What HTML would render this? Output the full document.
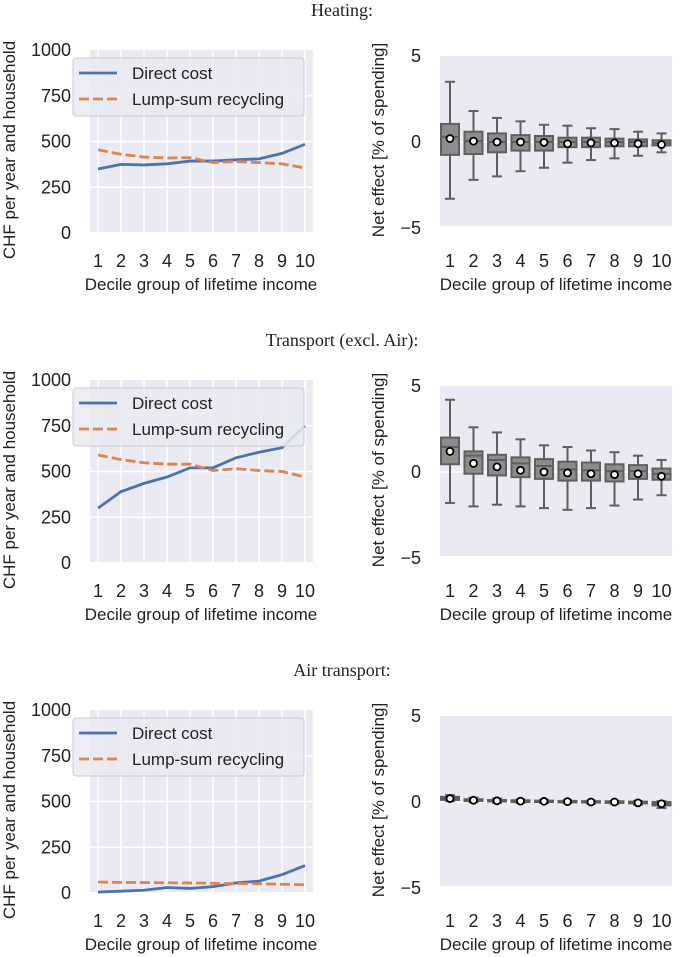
<!DOCTYPE html>
<html><head><meta charset="utf-8">
<style>
html,body{margin:0;padding:0;background:#fff;}
svg{display:block;font-family:"Liberation Sans",sans-serif;}
</style></head>
<body>
<svg id="fig" width="685" height="957" viewBox="0 0 685 957" xmlns="http://www.w3.org/2000/svg"></svg>
<script>
const deciles = [1,2,3,4,5,6,7,8,9,10];
const panelTitles = ["Heating:", "Transport (excl. Air):", "Air transport:"];
const costTicks = [0,250,500,750,1000];
const netTicks = [-5,0,5];
// line data
const heatDirect = [350,375,372,378,393,393,400,405,435,485];
const heatLump = [455,430,415,410,412,385,390,385,378,355];
const transDirect = [300,390,435,470,520,520,575,605,630,750];
const transLump = [590,565,548,540,540,505,515,505,500,470];
const airDirect = [5,10,15,30,25,35,55,65,100,150];
const airLump = [60,58,57,56,55,53,52,50,48,45];
// boxplot data: whisker low, q1, median, q3, whisker high, mean
const heatWlo = [-3.3,-2.2,-2.0,-1.7,-1.5,-1.2,-1.05,-0.95,-0.8,-0.6];
const heatQ1 = [-0.75,-0.7,-0.6,-0.5,-0.5,-0.3,-0.3,-0.25,-0.25,-0.2];
const heatMed = [0.3,0.05,0,0,0,0,0,0,0,-0.05];
const heatQ3 = [1.05,0.6,0.5,0.4,0.35,0.25,0.25,0.2,0.15,0.1];
const heatWhi = [3.5,1.8,1.4,1.2,1.0,0.95,0.8,0.75,0.6,0.5];
const heatMean = [0.2,0.05,0,0,-0.02,-0.1,-0.05,-0.05,-0.1,-0.15];
const trWlo = [-1.8,-2.0,-1.9,-2.0,-2.1,-2.2,-2.1,-1.95,-1.6,-1.35];
const trQ1 = [0.45,-0.1,-0.2,-0.3,-0.4,-0.5,-0.5,-0.55,-0.4,-0.45];
const trMed = [1.45,0.95,0.7,0.5,0.35,0.15,0.1,0.05,0.05,-0.1];
const trQ3 = [2.0,1.2,1.0,0.85,0.75,0.6,0.55,0.45,0.4,0.2];
const trWhi = [4.2,2.6,2.3,1.9,1.55,1.45,1.25,1.15,0.95,0.7];
const trMean = [1.2,0.5,0.3,0.1,0.0,-0.05,-0.1,-0.15,-0.1,-0.25];
const airWlo = [0.05,0.0,-0.05,-0.05,-0.05,-0.05,-0.1,-0.1,-0.15,-0.35];
const airQ1 = [0.12,0.06,0.03,0.0,0.0,-0.02,-0.03,-0.05,-0.08,-0.2];
const airMed = [0.2,0.1,0.07,0.05,0.04,0.02,0.0,0.0,-0.03,-0.1];
const airQ3 = [0.3,0.16,0.12,0.1,0.08,0.06,0.05,0.04,0.02,0.0];
const airWhi = [0.4,0.25,0.2,0.15,0.12,0.1,0.08,0.07,0.05,0.05];
const airMean = [0.2,0.1,0.07,0.05,0.04,0.02,0.0,0.0,-0.05,-0.1];

const svg = document.getElementById('fig');
const NS = 'http://www.w3.org/2000/svg';
function mk(tag, attrs, parent){
  const e = document.createElementNS(NS, tag);
  for (const k in attrs) e.setAttribute(k, attrs[k]);
  (parent||svg).appendChild(e);
  return e;
}
const panels = [
  {off:0, direct:heatDirect, lump:heatLump, wlo:heatWlo,q1:heatQ1,med:heatMed,q3:heatQ3,whi:heatWhi,mean:heatMean, key:'heating'},
  {off:330, direct:transDirect, lump:transLump, wlo:trWlo,q1:trQ1,med:trMed,q3:trQ3,whi:trWhi,mean:trMean, key:'transport'},
  {off:660, direct:airDirect, lump:airLump, wlo:airWlo,q1:airQ1,med:airMed,q3:airQ3,whi:airWhi,mean:airMean, key:'air'}
];
panels.forEach((p, pi) => {
  const o = p.off;
  const t = mk('text', {x:342, y:o+16, 'text-anchor':'middle', 'font-family':'"Liberation Serif",serif', 'font-size':18, fill:'#222'});
  t.textContent = panelTitles[pi];
  
  

  const xL = d => 98 + (d-1)*23;
  const yL = v => o + 233 - v*0.183;
  const gl = mk('g', {});
  
  
  mk('rect', {x:90, y:o+50, width:223, height:182, fill:'#eaeaf2'}, gl);
  costTicks.forEach(v => {
    if (v>0 && v<1000) mk('line', {x1:90, x2:313, y1:yL(v), y2:yL(v), stroke:'#fff', 'stroke-width':1.5}, gl);
    const tx = mk('text', {x:71, y:yL(v)+6, 'text-anchor':'end', 'font-size':18, fill:'#222'}, gl);
    tx.textContent = v;
    
    
  });
  deciles.forEach(d => {
    mk('line', {x1:xL(d), x2:xL(d), y1:o+50, y2:o+232, stroke:'#fff', 'stroke-width':1.5}, gl);
    const tx = mk('text', {x:xL(d), y:o+267, 'text-anchor':'middle', 'font-size':18, fill:'#222'}, gl);
    tx.textContent = d;
    
    
  });
  const dl = mk('polyline', {points:p.direct.map((v,i)=>xL(deciles[i])+','+yL(v)).join(' '), fill:'none', stroke:'#4c72b0', 'stroke-width':2.8}, gl);
  
  
  const ll = mk('polyline', {points:p.lump.map((v,i)=>xL(deciles[i])+','+yL(v)).join(' '), fill:'none', stroke:'#dd8452', 'stroke-width':2.8, 'stroke-dasharray':'10,4'}, gl);
  
  
  const lg = mk('g', {}, gl);
  
  
  mk('rect', {x:73, y:o+58, width:231, height:58, rx:3, fill:'#eaeaf2', 'fill-opacity':0.85, stroke:'#ccc', 'stroke-width':1}, lg);
  mk('line', {x1:79, x2:117, y1:o+73, y2:o+73, stroke:'#4c72b0', 'stroke-width':2.8}, lg);
  mk('line', {x1:79, x2:117, y1:o+99, y2:o+99, stroke:'#dd8452', 'stroke-width':2.8, 'stroke-dasharray':'10,4'}, lg);
  const l1 = mk('text', {x:132, y:o+79, 'font-size':17, fill:'#222'}, lg); l1.textContent = 'Direct cost';
  
  
  const l2 = mk('text', {x:132, y:o+105, 'font-size':17, fill:'#222'}, lg); l2.textContent = 'Lump-sum recycling';
  
  
  const yl = mk('text', {x:0, y:0, transform:`translate(15,${o+150}) rotate(-90)`, 'text-anchor':'middle', 'font-size':17, fill:'#222'}, gl);
  yl.textContent = 'CHF per year and household';
  
  
  const xl = mk('text', {x:201, y:o+290, 'text-anchor':'middle', 'font-size':17, fill:'#222'}, gl);
  xl.textContent = 'Decile group of lifetime income';
  
  

  const xR = d => 450 + (d-1)*23.5;
  const yR = v => o + 142 - v*17.2;
  const gr = mk('g', {});
  
  
  mk('rect', {x:440, y:o+56, width:232, height:170, fill:'#eaeaf2'}, gr);
  mk('line', {x1:440, x2:672, y1:yR(0), y2:yR(0), stroke:'#fff', 'stroke-width':1.5}, gr);
  netTicks.forEach(v => {
    const tx = mk('text', {x:421, y:yR(v)+6, 'text-anchor':'end', 'font-size':18, fill:'#222'}, gr);
    tx.textContent = v < 0 ? '\u2212' + Math.abs(v) : v;
    
    
  });
  deciles.forEach((d,i) => {
    const bx = mk('g', {}, gr);
    
    
    const cx = xR(d), w = 9;
    mk('line', {x1:cx, x2:cx, y1:yR(p.whi[i]), y2:yR(p.wlo[i]), stroke:'#5f5f5f', 'stroke-width':2}, bx);
    mk('line', {x1:cx-5, x2:cx+5, y1:yR(p.whi[i]), y2:yR(p.whi[i]), stroke:'#5f5f5f', 'stroke-width':2}, bx);
    mk('line', {x1:cx-5, x2:cx+5, y1:yR(p.wlo[i]), y2:yR(p.wlo[i]), stroke:'#5f5f5f', 'stroke-width':2}, bx);
    mk('rect', {x:cx-w, y:yR(p.q3[i]), width:2*w, height:Math.max(1,yR(p.q1[i])-yR(p.q3[i])), fill:'#8c8c8c', stroke:'#5f5f5f', 'stroke-width':2}, bx);
    mk('line', {x1:cx-w, x2:cx+w, y1:yR(p.med[i]), y2:yR(p.med[i]), stroke:'#5f5f5f', 'stroke-width':2}, bx);
    mk('circle', {cx:cx, cy:yR(p.mean[i]), r:3.5, fill:'#fff', stroke:'#000', 'stroke-width':1.8}, bx);
    const tx = mk('text', {x:cx, y:o+267, 'text-anchor':'middle', 'font-size':18, fill:'#222'}, gr);
    tx.textContent = d;
    
    
  });
  const yr = mk('text', {x:0, y:0, transform:`translate(384,${o+140}) rotate(-90)`, 'text-anchor':'middle', 'font-size':17, fill:'#222'}, gr);
  yr.textContent = 'Net effect [% of spending]';
  
  
  const xr = mk('text', {x:556, y:o+290, 'text-anchor':'middle', 'font-size':17, fill:'#222'}, gr);
  xr.textContent = 'Decile group of lifetime income';
  
  
});
</script>
</body></html>
